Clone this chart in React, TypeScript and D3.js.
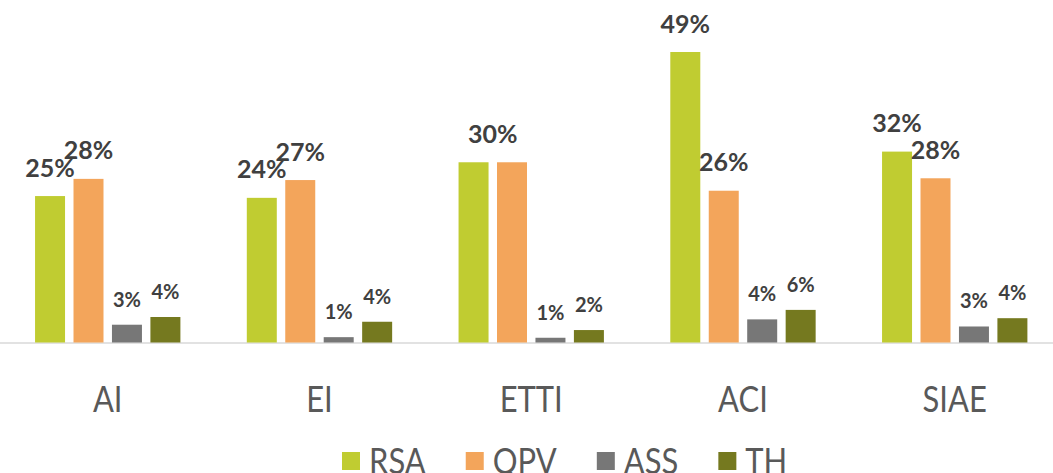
import { useRef, useEffect } from "react";
import * as d3 from "d3";

const categories = ["AI", "EI", "ETTI", "ACI", "SIAE"];
const seriesNames = ["RSA", "QPV", "ASS", "TH"];
const seriesColors = ["#c0cc31", "#f3a55b", "#777777", "#75791f"];

// percent values per series, one per category
const rsa = [24.7, 24.4, 30.4, 49.0, 32.2];
const qpv = [27.6, 27.4, 30.4, 25.6, 27.7];
const ass = [3.0, 0.9, 0.8, 3.9, 2.7];
const th = [4.3, 3.5, 2.1, 5.5, 4.1];

const seriesValues = [rsa, qpv, ass, th];

const Chart: React.FC = () => {
    const svgRef = useRef<SVGSVGElement | null>(null);

    useEffect(() => {
        if (!svgRef.current) return;

        const width = 1053;
        const height = 473;
        const baseline = 342.5;
        const font = "Lato, 'Open Sans', sans-serif";
        const squeeze = 0.86; // Lato is wider than the original font

        const svg = d3.select(svgRef.current);
        svg.selectAll("*").remove();
        svg.attr("width", width).attr("height", height);

        const x0 = d3
            .scaleBand<string>()
            .domain(categories)
            .range([1.85, 1060.6])
            .padding(0);

        const groupPad = 33.2;
        const x1 = d3
            .scaleBand<string>()
            .domain(seriesNames)
            .range([groupPad, x0.bandwidth() - groupPad])
            .paddingInner(0.22)
            .paddingOuter(0);

        const y = d3.scaleLinear().domain([0, 49]).range([baseline, 52]);

        const fmt = (v: number) => `${Math.round(v)}%`;

        // axis line
        svg.append("line")
            .attr("x1", 0)
            .attr("x2", width)
            .attr("y1", baseline + 0.5)
            .attr("y2", baseline + 0.5)
            .attr("stroke", "#d9d9d9")
            .attr("stroke-width", 1.6);

        const groups = svg
            .append("g")
            .selectAll("g")
            .data(categories)
            .join("g")
            .attr("transform", (c) => `translate(${x0(c)},0)`);

        groups.each(function (c, ci) {
            const g = d3.select(this);
            const vals = seriesValues.map((s) => s[ci]);

            g.selectAll("rect")
                .data(vals)
                .join("rect")
                .attr("x", (_v, i) => x1(seriesNames[i]) ?? 0)
                .attr("width", x1.bandwidth())
                .attr("y", (v) => y(v))
                .attr("height", (v) => baseline - y(v))
                .attr("fill", (_v, i) => seriesColors[i]);

            // labels; equal neighbouring labels are merged into one
            const labels: { x: number; v: number; big: boolean }[] = [];
            vals.forEach((v, i) => {
                const cx = (x1(seriesNames[i]) ?? 0) + x1.bandwidth() / 2;
                const prev = labels[labels.length - 1];
                if (prev && i > 0 && fmt(vals[i - 1]) === fmt(v)) {
                    prev.x = (prev.x + cx) / 2;
                    prev.v = Math.max(prev.v, v);
                    return;
                }
                labels.push({ x: cx, v, big: i < 2 });
            });

            g.selectAll("text.lbl")
                .data(labels)
                .join("text")
                .attr("class", "lbl")
                .attr("x", (d) => d.x)
                .attr("y", (d) => y(d.v) - (d.big ? 19.5 : 18))
                .attr("text-anchor", "middle")
                .attr("font-family", font)
                .attr("font-weight", 700)
                .attr("font-size", (d) => (d.big ? 25 : 20))
                .attr("fill", "#404040")
                .text((d) => fmt(d.v));

            g.append("g")
                .attr(
                    "transform",
                    `translate(${x0.bandwidth() / 2},411.7) scale(${squeeze},1)`,
                )
                .append("text")
                .attr("text-anchor", "middle")
                .attr("font-family", font)
                .attr("font-size", 36)
                .attr("fill", "#595959")
                .text(c);
        });

        // legend
        const legend = svg.append("g");
        let lx = 342;
        seriesNames.forEach((name, i) => {
            legend
                .append("rect")
                .attr("x", lx)
                .attr("y", 452)
                .attr("width", 18)
                .attr("height", 18)
                .attr("fill", seriesColors[i]);
            const t = legend
                .append("g")
                .attr("transform", `translate(${lx + 27},474.2) scale(${squeeze},1)`)
                .append("text")
                .attr("font-family", font)
                .attr("font-size", 36)
                .attr("fill", "#595959")
                .text(name);
            const w = (t.node() as SVGTextElement).getComputedTextLength() * squeeze;
            lx += 27 + w + 40;
        });
    }, []);

    return (
        <svg
            ref={svgRef}
            style={{ position: "absolute", left: 0, top: 0, display: "block" }}
        />
    );
};

export default function App() {
    return <Chart />;
}
